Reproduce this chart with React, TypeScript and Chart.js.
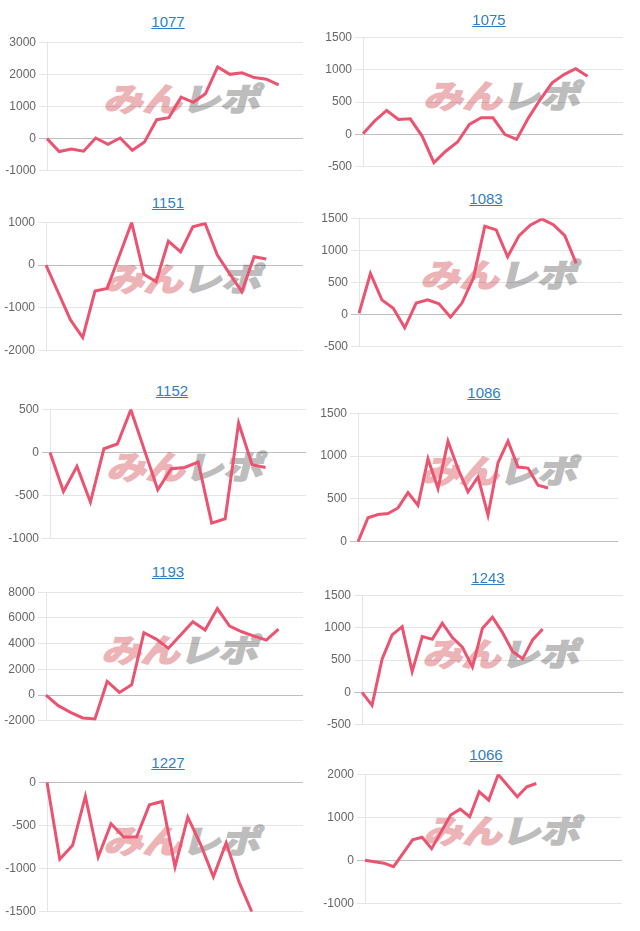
import React, { useEffect, useRef } from 'react';
import { Chart, registerables } from 'chart.js';

Chart.register(...registerables);

// ---- data ----
const TITLES = ['1077', '1075', '1151', '1083', '1152', '1086', '1193', '1243', '1227', '1066'];
// number of (hidden) x categories per chart
const LABEL_COUNTS = [22, 23, 22, 24, 20, 27, 22, 27, 21, 28];

const S1077 = [0, -400, -320, -390, 20, -175, 20, -360, -100, 590, 650, 1290, 1130, 1400, 2230, 2000, 2050, 1900, 1850, 1670];
const S1075 = [10, 210, 369, 231, 241, -26, -436, -260, -118, 154, 256, 256, 0, -77, 256, 538, 795, 923, 1015, 897];
const S1151 = [0, -640, -1280, -1690, -605, -543, 225, 992, -217, -388, 558, 310, 891, 969, 233, -200, -620, 194, 140];
const S1083 = [20, 640, 230, 100, -205, 180, 230, 170, -40, 180, 565, 1375, 1318, 900, 1230, 1395, 1487, 1400, 1230, 795];
const S1152 = [0, -452, -162, -575, 42, 97, 494, 30, -432, -189, -174, -112, -818, -768, 340, -143, -174];
const S1086 = [0, 280, 318, 330, 395, 574, 426, 969, 620, 1174, 853, 581, 756, 310, 922, 1174, 872, 860, 659, 628];
const S1193 = [0, -825, -1340, -1780, -1860, 1057, 206, 799, 4845, 4355, 3634, 4665, 5700, 5054, 6730, 5365, 4923, 4588, 4278, 5128];
const S1243 = [0, -200, 513, 887, 1015, 323, 862, 821, 1067, 846, 697, 390, 990, 1159, 923, 631, 518, 810, 980];
const S1227 = [0, -892, -731, -162, -865, -481, -635, -635, -262, -223, -981, -404, -720, -1096, -700, -1154, -1500];
const S1066 = [10, -25, -60, -140, null, 480, 540, 275, null, 1054, 1192, 1015, 1592, 1400, 1992, null, 1477, 1708, 1785];

const SERIES = [S1077, S1075, S1151, S1083, S1152, S1086, S1193, S1243, S1227, S1066];

// y-axis tick ranges
const Y_MIN = [-1000, -500, -2000, -500, -1000, 0, -2000, -500, -1500, -1000];
const Y_MAX = [3000, 1500, 1000, 1500, 500, 1500, 8000, 1500, 0, 2000];
const Y_STEP = [1000, 500, 1000, 500, 500, 500, 2000, 500, 500, 1000];

// ---- layout (page pixels) ----
const AXIS_X = [47, 363, 46, 359, 50, 358, 46, 362, 47, 365];
const GRID_RIGHT = [303, 623, 303, 622, 306, 618, 303, 623, 303, 622];
const GRID_TOP = [42, 37, 222, 218, 409, 413, 592, 595, 782, 774];
const GRID_BOTTOM = [171, 167, 351, 347, 539, 542, 721, 725, 912, 904];
const TITLE_X = [168, 489, 168, 486, 172, 484, 168, 488, 168, 486];
const TITLE_Y = [17, 15, 198, 194, 386, 388, 567, 573, 758, 750];
const WM_X = [185, 505, 186, 502, 188, 502, 183, 504, 185, 505];
const WM_Y = [97, 94, 277, 273, 465, 469, 648, 652, 839, 829];

const LINE_COLOR = '#ea5470';
const AXIS_W = 45;

function MiniChart({ idx }: { idx: number }) {
  const ref = useRef<HTMLCanvasElement | null>(null);
  const left = AXIS_X[idx] - AXIS_W;
  const top = GRID_TOP[idx] - 10;
  const width = GRID_RIGHT[idx] - left + 5;
  const height = GRID_BOTTOM[idx] - GRID_TOP[idx] + 20;

  useEffect(() => {
    if (!ref.current) return;
    const labels = Array.from({ length: LABEL_COUNTS[idx] }, (_, i) => String(i + 1));
    const chart = new Chart(ref.current, {
      type: 'line',
      data: {
        labels,
        datasets: [
          {
            data: SERIES[idx] as any,
            borderColor: LINE_COLOR,
            backgroundColor: LINE_COLOR,
            borderWidth: 3,
            pointRadius: 0,
            tension: 0,
            fill: false,
            spanGaps: true,
          },
        ],
      },
      options: {
        animation: false,
        responsive: false,
        layout: { padding: { top: 10, bottom: 10, right: 5, left: 0 } },
        plugins: {
          legend: { display: false },
          tooltip: { enabled: false },
          title: { display: false },
        },
        scales: {
          x: { display: false },
          y: {
            min: Y_MIN[idx],
            max: Y_MAX[idx],
            ticks: {
              stepSize: Y_STEP[idx],
              color: '#666',
              padding: 3,
              font: { size: 12, family: "Arial, 'Liberation Sans', Helvetica, sans-serif" },
              callback: (v: any) => String(v),
            },
            grid: {
              color: (ctx: any) =>
                ctx.tick && ctx.tick.value === 0 ? 'rgba(0,0,0,0.25)' : 'rgba(0,0,0,0.1)',
              tickLength: 8,
            },
            border: { color: 'rgba(0,0,0,0.1)' },
            afterFit: (s: any) => {
              s.width = AXIS_W;
            },
          },
        },
      },
    });
    return () => chart.destroy();
  }, [idx]);

  return (
    <>
      <div
        style={{
          position: 'absolute',
          left: WM_X[idx] - 90,
          top: WM_Y[idx] - 22,
          width: 180,
          height: 44,
          display: 'flex',
          alignItems: 'center',
          justifyContent: 'center',
          fontFamily: "'Noto Sans CJK JP', sans-serif",
          fontWeight: 700,
          fontSize: 32,
          letterSpacing: 0,
          lineHeight: '44px',
          transform: 'skewX(-14deg) scaleX(1.22)',
          whiteSpace: 'nowrap',
          userSelect: 'none',
        }}
      >
        <span style={{ color: '#edb4b7', WebkitTextStroke: '2px #edb4b7' } as any}>みん</span>
        <span style={{ color: '#bdbdbd', WebkitTextStroke: '2px #bdbdbd' } as any}>レポ</span>
      </div>
      <canvas
        ref={ref}
        width={width}
        height={height}
        style={{ position: 'absolute', left, top, width, height }}
      />
      <div
        style={{
          position: 'absolute',
          left: TITLE_X[idx] - 50,
          top: TITLE_Y[idx] - 4,
          width: 100,
          textAlign: 'center',
          fontFamily: "Arial, 'Liberation Sans', sans-serif",
          fontSize: 15,
          lineHeight: '17px',
        }}
      >
        <a href="#" style={{ color: '#2f7fc8', textDecoration: 'underline' }}>
          {TITLES[idx]}
        </a>
      </div>
    </>
  );
}

export default function App() {
  return (
    <div
      style={{
        position: 'absolute',
        left: 0,
        top: 0,
        width: 640,
        height: 931,
        background: '#fff',
        overflow: 'hidden',
      }}
    >
      {TITLES.map((_, i) => (
        <MiniChart key={i} idx={i} />
      ))}
    </div>
  );
}
